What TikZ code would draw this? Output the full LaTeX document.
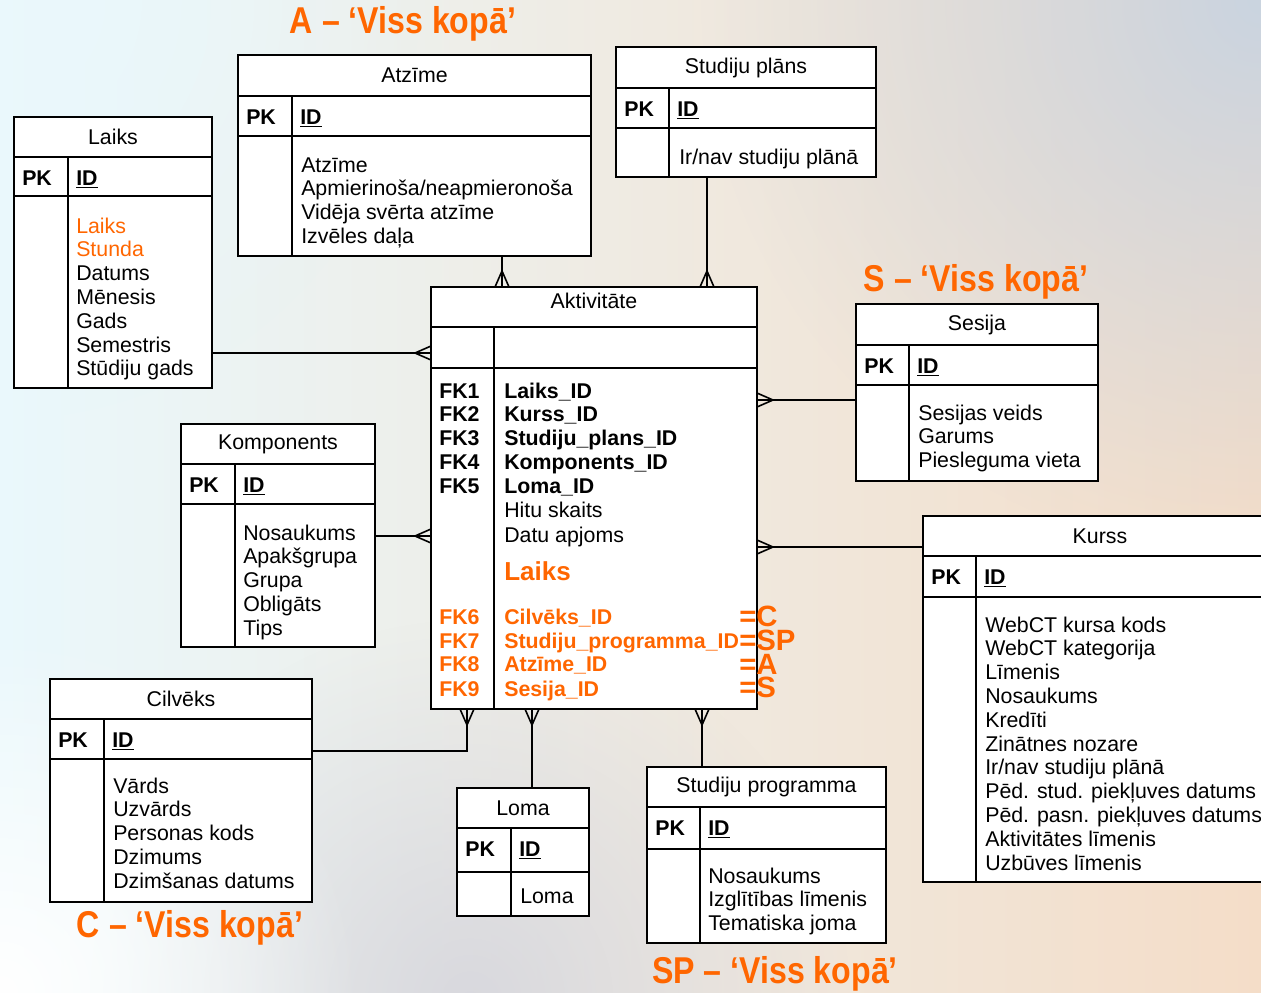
\documentclass[tikz,border=0pt]{standalone}
\usepackage{fontspec}
\setmainfont{Liberation Sans}
\newfontfamily\headfont[FakeStretch=0.86]{Liberation Sans}
\usetikzlibrary{calc,fadings}

\definecolor{accent}{HTML}{FF6600}
\definecolor{bgL}{HTML}{EAF8FC}
\definecolor{bgM}{HTML}{E8E5EC}
\definecolor{bgR}{HTML}{F4DDC8}
\definecolor{bgTR}{HTML}{CAD4E0}
\definecolor{bgBM}{HTML}{D3D3DB}

\tikzfading[name=softdisc, inner color=transparent!0, outer color=transparent!100]

% entity table: name, x1, y1, x2, y2, title bottom, key row bottom, divider x, title
\newcommand\ertab[9]{%
  \node[box, minimum width={(#4-#2)*0.75pt}, minimum height={(#5-#3)*0.75pt}] (#1) at (#2,#3) {};
  \draw[conn] (#2,#6) -- (#4,#6) (#2,#7) -- (#4,#7) (#8,#6) -- (#8,#5);
  \node[txt] (#1-title) at ({(#2+#4)/2},{(#3+#6)/2}) {#9};
}
% key row: name, x1, divider x, row centre
\newcommand\pkrow[4]{%
  \node[txtb, anchor=base west] (#1-pk) at (#2+8,#4+7) {PK};
  \node[txtb, anchor=base west] (#1-id) at (#3+8,#4+7) {\underline{ID}};
}
% attribute lines: name, x, first line centre, list
\newcommand\attrs[4]{%
  \foreach \t [count=\i from 0] in {#4} {
    \node[txt, anchor=base west] (#1-a\i) at (#2,#3+7+\i*23.8) {\t};
  }
}
% crow's feet at an entity boundary point, line arriving from the given side
\newcommand\crowN[1]{\draw[conn] ($(#1)+(-7,0)$) -- ($(#1)+(0,-16)$) -- ($(#1)+(7,0)$);}
\newcommand\crowS[1]{\draw[conn] ($(#1)+(-7,0)$) -- ($(#1)+(0,16)$) -- ($(#1)+(7,0)$);}
\newcommand\crowW[1]{\draw[conn] ($(#1)+(0,-7)$) -- ($(#1)+(-16,0)$) -- ($(#1)+(0,7)$);}
\newcommand\crowE[1]{\draw[conn] ($(#1)+(0,-7)$) -- ($(#1)+(16,0)$) -- ($(#1)+(0,7)$);}

\begin{document}
\begin{tikzpicture}[x=0.75pt,y=-0.75pt,
  conn/.style={line width=1.2pt},
  box/.style={draw, line width=1.2pt, fill=white, inner sep=0pt, outer sep=0pt, anchor=north west},
  txt/.style={font=\fontsize{16}{18}\selectfont, inner sep=0pt},
  txtb/.style={font=\fontsize{16}{18}\selectfont\bfseries, inner sep=0pt},
  fkb/.style={txtb, anchor=base west},
  fko/.style={txtb, anchor=base west, text=accent},
  head/.style={font=\headfont\fontsize{28}{30}\selectfont\bfseries, text=accent, inner sep=0pt}]

\useasboundingbox (0,0) rectangle (1261,993);
\clip (0,0) rectangle (1261,993);

% background
\fill[left color=bgL, middle color=bgM, right color=bgR] (0,0) rectangle (1261,993);
\fill[bgTR, path fading=softdisc] (1261,0) circle (560);
\fill[bgBM, path fading=softdisc, opacity=0.8] (470,1000) circle (380);
\fill[white, path fading=softdisc] (0,993) circle (360);
\fill[bgL, path fading=softdisc] (0,0) circle (420);

% entities
\ertab{laiks}{14}{117}{212}{388}{157}{196}{68}{Laiks}
\pkrow{laiks}{14}{68}{178}
\attrs{laiks}{76}{226}{{\color{accent}Laiks},{\color{accent}Stunda},Datums,Mēnesis,Gads,Semestris,Stūdiju gads}

\ertab{atzime}{238}{55}{591}{256}{96}{136}{292}{Atzīme}
\pkrow{atzime}{238}{292}{117}
\attrs{atzime}{301}{165}{Atzīme,Apmierinoša/neapmieronoša,Vidēja svērta atzīme,Izvēles daļa}

\ertab{splans}{616}{47}{876}{177}{88}{128}{669}{Studiju plāns}
\pkrow{splans}{616}{669}{109}
\attrs{splans}{679}{157}{Ir/nav studiju plānā}

\ertab{sesija}{856}{304}{1098}{481}{345}{385}{909}{Sesija}
\pkrow{sesija}{856}{909}{366}
\attrs{sesija}{918}{413}{Sesijas veids,Garums,Piesleguma vieta}

\ertab{kurss}{923}{516}{1277}{882}{556}{597}{976}{Kurss}
\pkrow{kurss}{923}{976}{577}
\attrs{kurss}{985}{625}{WebCT kursa kods,WebCT kategorija,Līmenis,Nosaukums,Kredīti,Zinātnes nozare,Ir/nav studiju plānā,Pēd. stud. piekļuves datums,Pēd. pasn. piekļuves datums,Aktivitātes līmenis,Uzbūves līmenis}

\ertab{komp}{181}{424}{375}{647}{464}{504}{235}{Komponents}
\pkrow{komp}{181}{235}{485}
\attrs{komp}{243}{533}{Nosaukums,Apakšgrupa,Grupa,Obligāts,Tips}

\ertab{cilv}{50}{679}{312}{902}{719}{759}{104}{Cilvēks}
\pkrow{cilv}{50}{104}{740}
\attrs{cilv}{113}{786}{Vārds,Uzvārds,Personas kods,Dzimums,Dzimšanas datums}

\ertab{loma}{457}{788}{589}{916}{828}{872}{511}{Loma}
\pkrow{loma}{457}{511}{849}
\attrs{loma}{520}{896}{Loma}

\ertab{sprog}{647}{767}{886}{943}{807}{849}{700}{Studiju programma}
\pkrow{sprog}{647}{700}{828}
\attrs{sprog}{708}{876}{Nosaukums,Izglītības līmenis,Tematiska joma}

% activity fact table
\node[box, minimum width={326*0.75pt}, minimum height={422*0.75pt}] (aktiv) at (431,287) {};
\draw[conn] (431,327) -- (757,327) (431,368) -- (757,368) (494,327) -- (494,709);
\node[txt] (aktiv-title) at (594,301) {Aktivitāte};
\foreach \k/\f/\y in {1/Laiks\_ID/391, 2/Kurss\_ID/414, 3/Studiju\_plans\_ID/438, 4/Komponents\_ID/462, 5/Loma\_ID/486} {
  \node[fkb] (fk\k) at (439,\y+7) {FK\k};
  \node[fkb] (fkn\k) at (504,\y+7) {\f};
}
\node[txt, anchor=base west] (hitu) at (504,510+7) {Hitu skaits};
\node[txt, anchor=base west] (datu) at (504,535+7) {Datu apjoms};
\node[font=\fontsize{19.5}{22}\selectfont\bfseries, inner sep=0pt, anchor=base west, text=accent] (laiksm) at (504,572+8) {Laiks};
\foreach \k/\f/\y in {6/Cilvēks\_ID/617, 7/Studiju\_programma\_ID/641, 8/Atzīme\_ID/664, 9/Sesija\_ID/689} {
  \node[fko] (fk\k) at (439,\y+7) {FK\k};
  \node[fko] (fkn\k) at (504,\y+7) {\f};
}
\node[font=\fontsize{22}{17.8}\selectfont\bfseries, text=accent, inner sep=0pt,
      align=left, anchor=north west] (eqs) at (739,606) {=C\\=SP\\=A\\=S};

% relationships
\draw[conn] (laiks.east |- 0,353) -- (aktiv.west |- 0,353) coordinate (c1); \crowW{c1}
\draw[conn] (atzime.south -| 502,0) -- (aktiv.north -| 502,0) coordinate (c2); \crowN{c2}
\draw[conn] (splans.south -| 707,0) -- (aktiv.north -| 707,0) coordinate (c3); \crowN{c3}
\draw[conn] (sesija.west |- 0,400) -- (aktiv.east |- 0,400) coordinate (c4); \crowE{c4}
\draw[conn] (kurss.west |- 0,547) -- (aktiv.east |- 0,547) coordinate (c5); \crowE{c5}
\draw[conn] (komp.east |- 0,536) -- (aktiv.west |- 0,536) coordinate (c6); \crowW{c6}
\draw[conn] (cilv.east |- 0,751) -| (aktiv.south -| 467,0) coordinate (c7); \crowS{c7}
\draw[conn] (loma.north -| 532,0) -- (aktiv.south -| 532,0) coordinate (c8); \crowS{c8}
\draw[conn] (sprog.north -| 702,0) -- (aktiv.south -| 702,0) coordinate (c9); \crowS{c9}

% group captions
\node[head] (capA) at (403,24) {A – ‘Viss kopā’};
\node[head] (capS) at (976,282) {S – ‘Viss kopā’};
\node[head] (capC) at (190,928) {C – ‘Viss kopā’};
\node[head] (capSP) at (775,974) {SP – ‘Viss kopā’};
\end{tikzpicture}
\end{document}
